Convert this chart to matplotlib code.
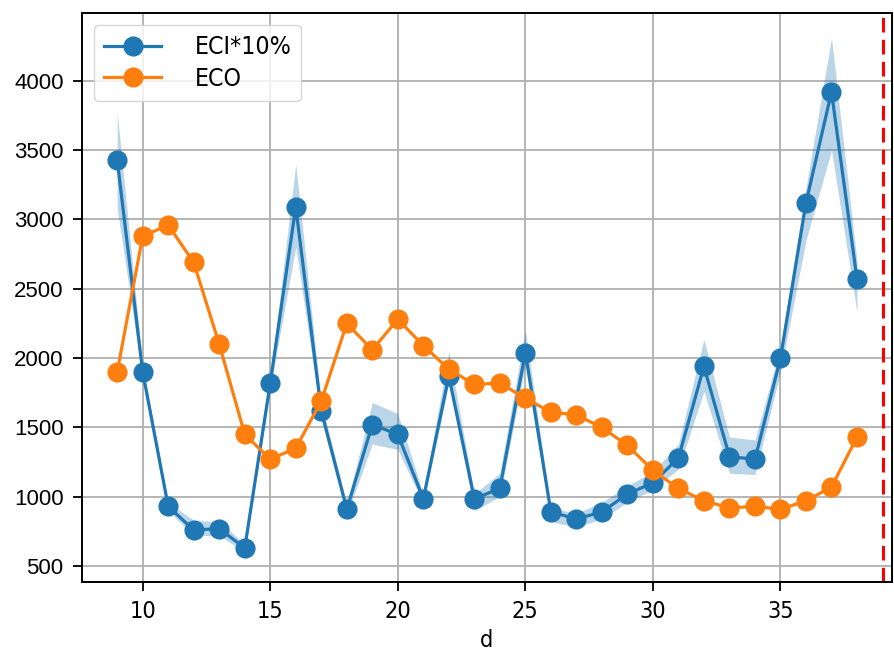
import matplotlib
matplotlib.use("Agg")
import matplotlib.pyplot as plt
from matplotlib.font_manager import FontProperties

d = list(range(9, 39))
eci = [3430, 1900, 930, 760, 770, 630, 1820, 3090, 1620, 910,
       1520, 1450, 985, 1870, 985, 1060, 2040, 890, 840, 890,
       1020, 1100, 1280, 1940, 1290, 1270, 2000, 3120, 3920, 2570]
eci_lo = [3080, 1850, 900, 720, 720, 600, 1780, 2800, 1560, 870,
          1380, 1340, 950, 1820, 900, 1000, 1950, 820, 780, 840,
          960, 1050, 1200, 1760, 1170, 1160, 1900, 2850, 3500, 2330]
eci_hi = [3770, 1950, 960, 830, 820, 660, 1860, 3400, 1680, 950,
          1680, 1600, 1020, 2050, 1020, 1170, 2200, 920, 880, 960,
          1080, 1180, 1380, 2135, 1430, 1410, 2080, 3230, 4310, 2700]
eco = [1900, 2880, 2960, 2690, 2100, 1450, 1270, 1350, 1690, 2250,
       2060, 2280, 2090, 1920, 1810, 1820, 1710, 1610, 1590, 1500,
       1370, 1190, 1060, 970, 920, 930, 910, 970, 1070, 1430]
vline_x = 39
labels = ["ECI*10%", "ECO"]
xlabel = "d"
xticks = [10, 15, 20, 25, 30, 35]
yticks = [500, 1000, 1500, 2000, 2500, 3000, 3500, 4000]


def cond(size):
    return FontProperties(family="DejaVu Sans", stretch="condensed", size=size)


fig = plt.figure(figsize=(8.95, 6.55), dpi=100)
ax = fig.add_axes([0.0916, 0.1115, 0.9050, 0.8687])

ax.fill_between(d, eci_lo, eci_hi, color="#1f77b4", alpha=0.3, linewidth=0)
ax.plot(d, eci, "-o", color="#1f77b4", lw=2.3, ms=13.5, label=labels[0], zorder=3)
ax.plot(d, eco, "-o", color="#ff7f0e", lw=2.3, ms=13.5, label=labels[1], zorder=3)
ax.axvline(vline_x, color="red", ls="--", lw=2.2, dashes=(4.8, 2.4))

ax.set_xlim(7.62, 39.37)
ax.set_ylim(385, 4490)
ax.set_xticks(xticks)
ax.set_yticks(yticks)
ax.grid(True, color="#b0b0b0", lw=1.3)
ax.set_axisbelow(True)
for s in ax.spines.values():
    s.set_linewidth(1.4)
ax.tick_params(axis="both", length=6.3, width=1.3, pad=7)
for t in ax.get_yticklabels():
    t.set_family("Liberation Sans")
    t.set_fontsize(16)
for t in ax.get_xticklabels():
    t.set_fontproperties(cond(16.8))
ax.set_xlabel(xlabel, fontproperties=cond(16.8), labelpad=4)

leg = ax.legend(loc="upper left", prop=cond(17.8),
                handlelength=2.3, handletextpad=1.35, borderpad=0.4,
                labelspacing=0.3, borderaxespad=0.5,
                framealpha=0.8, edgecolor="#cccccc")

fig.savefig("out.png", dpi=100)
